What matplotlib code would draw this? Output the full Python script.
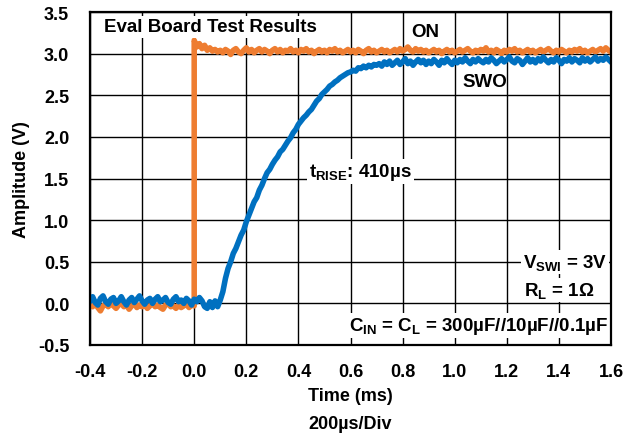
import numpy as np
import matplotlib
matplotlib.use("Agg")
import matplotlib.pyplot as plt

plt.rcParams['font.family'] = ['Liberation Sans', 'DejaVu Sans']
plt.rcParams['font.weight'] = 'bold'
plt.rcParams['mathtext.fontset'] = 'custom'
plt.rcParams['mathtext.rm'] = 'Liberation Sans:bold'
plt.rcParams['mathtext.bf'] = 'Liberation Sans:bold'
plt.rcParams['mathtext.it'] = 'Liberation Sans:bold'

# ---- data (ms, V) ----
orange_pre = [-0.02, -0.04, 0.00, -0.05, -0.09, -0.03, -0.01, -0.04, 0.01, -0.03,
              -0.06, -0.02, 0.00, -0.04, -0.02, -0.07, -0.03, 0.00, -0.05, -0.02,
              -0.04, -0.01, -0.06, -0.03, 0.01, -0.04, -0.02, -0.05, -0.07, -0.02,
              0.00, -0.04, -0.03, -0.06, -0.02, -0.05, -0.03, -0.01, -0.05, -0.02,
              -0.03]
orange_post = [3.16, 3.08, 3.12, 3.06, 3.10, 3.04, 3.07, 3.03, 3.05, 3.02,
               3.04, 3.01, 3.05, 3.03, 2.99, 3.04, 3.06, 3.02, 3.00, 3.04,
               3.07, 3.02, 3.05, 3.01, 3.04, 3.06, 3.02, 3.05, 3.03, 3.00,
               3.04, 3.06, 3.02, 3.05, 3.01, 3.04, 3.03, 3.06, 3.02, 3.04,
               3.01, 3.05, 3.03, 3.06, 3.02, 3.04, 3.00, 3.03, 3.05, 3.02,
               3.04, 3.01, 3.05, 3.03, 3.06, 3.02, 3.04, 3.01, 3.03, 3.05,
               3.02, 3.04, 3.01, 3.05, 3.03, 3.00, 3.04, 3.06, 3.02, 3.04,
               3.01, 3.03, 3.05, 3.02, 3.04, 3.01, 3.03, 3.05, 3.02, 3.06,
               3.03, 3.05, 3.08, 3.04, 3.02, 3.06, 3.03, 3.05, 3.02, 3.04,
               3.01, 3.03, 3.05, 3.02, 3.04, 3.00, 3.03, 3.05, 3.02, 3.04,
               3.01, 3.03, 3.05, 3.02, 3.04, 3.06, 3.03, 3.01, 3.04, 3.02,
               3.05, 3.03, 3.07, 3.02, 3.04, 3.01, 3.05, 3.03, 3.00, 3.04,
               3.02, 3.05, 3.03, 3.06, 3.02, 3.04, 3.01, 3.03, 3.05, 3.02,
               3.04, 3.01, 3.03, 3.05, 3.02, 3.04, 3.06, 3.03, 3.01, 3.04,
               3.02, 3.05, 3.03, 3.01, 3.04, 3.02, 3.05, 3.03, 3.06, 3.02,
               3.04, 3.01, 3.03, 3.05, 3.02, 3.04, 3.06, 3.03, 3.07, 3.04,
               3.02]
swo_vals = [0.03, 0.08, 0.01, -0.02, 0.06, 0.09, 0.02, -0.01, 0.05, 0.07,
            0.00, 0.03, 0.08, 0.02, -0.02, 0.04, 0.07, 0.01, 0.05, 0.09,
            0.03, -0.01, 0.04, 0.06, 0.00, 0.05, 0.08, 0.02, 0.04, 0.07,
            0.01, -0.01, 0.05, 0.08, 0.02, 0.04, 0.00, 0.06, 0.03, -0.02,
            0.05, 0.02, 0.07, 0.03, -0.04, -0.06, 0.02, -0.05, 0.03, -0.04,
            0.04, 0.14, 0.30, 0.42, 0.50, 0.60, 0.66, 0.74, 0.82, 0.88,
            0.98, 1.06, 1.14, 1.22, 1.27, 1.36, 1.42, 1.50, 1.57, 1.61,
            1.67, 1.72, 1.76, 1.82, 1.85, 1.90, 1.95, 1.99, 2.05, 2.09,
            2.15, 2.19, 2.23, 2.26, 2.30, 2.33, 2.38, 2.43, 2.46, 2.51,
            2.54, 2.57, 2.61, 2.63, 2.66, 2.68, 2.71, 2.73, 2.75, 2.77,
            2.78, 2.80, 2.79, 2.83, 2.82, 2.85, 2.83, 2.86, 2.84, 2.87,
            2.86,
            2.88, 2.85, 2.90, 2.87, 2.91, 2.86, 2.89, 2.92, 2.87, 2.90,
            2.94, 2.88, 2.91, 2.86, 2.90, 2.93, 2.89, 2.92, 2.87, 2.91,
            2.88, 2.93, 2.90, 2.86, 2.92, 2.89, 2.94, 2.90, 2.87, 2.92,
            2.89, 2.93, 2.90, 2.95, 2.91, 2.88, 2.93, 2.90, 2.94, 2.91,
            2.89, 2.93, 2.90, 2.95, 2.92, 2.88, 2.91, 2.94, 2.90, 2.93,
            2.96, 2.91, 2.89, 2.94, 2.92, 2.87, 2.91, 2.95, 2.90, 2.93,
            2.89, 2.94, 2.91, 2.96, 2.92, 2.89, 2.93, 2.90, 2.95, 2.92,
            2.88, 2.93, 2.91, 2.95, 2.90, 2.94, 2.92, 2.89, 2.95, 2.91,
            2.94, 2.90, 2.93, 2.96, 2.91, 2.94, 2.92, 2.96, 2.93, 2.90]

t_start, t_step, t_end = -0.40, 0.0, 1.60
orange_pre_t = np.linspace(t_start, t_step, len(orange_pre))
orange_post_t = np.linspace(t_step, t_end, len(orange_post))
swo_t = np.linspace(t_start, t_end, len(swo_vals))

on_t = np.concatenate([orange_pre_t, orange_post_t])
on_v = np.concatenate([orange_pre, orange_post])

xticks = [-0.4, -0.2, 0.0, 0.2, 0.4, 0.6, 0.8, 1.0, 1.2, 1.4, 1.6]
yticks = [-0.5, 0.0, 0.5, 1.0, 1.5, 2.0, 2.5, 3.0, 3.5]

ORANGE = '#EE7D31'
BLUE = '#0070C0'
FS = 13
AFS = 13.5

fig = plt.figure(figsize=(6.4, 4.39), dpi=100)
ax = fig.add_axes([90/640, 1-346/439, (611-90)/640, (346-13)/439])

ax.plot(on_t, on_v, color=ORANGE, lw=4.0, zorder=3, solid_joinstyle='round')
ax.plot(swo_t, swo_vals, color=BLUE, lw=4.0, zorder=4, solid_joinstyle='round')

ax.set_xlim(-0.4, 1.6)
ax.set_ylim(-0.5, 3.5)
ax.set_xticks(xticks)
ax.set_xticklabels([f"{v:.1f}" for v in xticks])
ax.set_yticks(yticks)
ax.set_yticklabels([f"{v:.1f}" for v in yticks])
ax.tick_params(length=0, labelsize=FS, pad=0)
ax.tick_params(axis='y', pad=15)
ax.tick_params(axis='x', pad=13)
for lab in ax.get_xticklabels() + ax.get_yticklabels():
    lab.set_fontweight('bold')
ax.grid(True, color='black', lw=1.0, zorder=1)
ax.set_axisbelow(True)
for s in ax.spines.values():
    s.set_linewidth(1.6)
    s.set_zorder(6)

box = dict(facecolor='white', edgecolor='none', pad=1.5)
ax.text(-0.345, 3.32, 'Eval Board Test Results', fontsize=AFS, fontweight='bold',
        ha='left', va='center', bbox=box, zorder=5)
ax.text(0.832, 3.26, 'ON', fontsize=AFS, fontweight='bold', ha='left', va='center', zorder=5)
ax.text(1.030, 2.66, 'SWO', fontsize=AFS, fontweight='bold', ha='left', va='center', zorder=5)
ax.text(0.44, 1.585, r'$\mathregular{t_{RISE}}$: 410µs', fontsize=AFS, fontweight='bold',
        ha='left', va='center', bbox=box, zorder=5)
ax.text(1.585, 0.50, r'$\mathregular{V_{SWI}}$ = 3V', fontsize=AFS, fontweight='bold',
        ha='right', va='center', bbox=box, zorder=5)
ax.text(1.535, 0.16, r'$\mathregular{R_{L}}$ = 1Ω', fontsize=AFS, fontweight='bold',
        ha='right', va='center', bbox=box, zorder=5)
ax.text(1.59, -0.27, r'$\mathregular{C_{IN}}$ = $\mathregular{C_{L}}$ = 300µF//10µF//0.1µF',
        fontsize=AFS, fontweight='bold', ha='right', va='center', bbox=box, zorder=5)

fig.text(350/640, 1-397/439, 'Time (ms)', fontsize=FS, fontweight='bold', ha='center', va='center')
fig.text(350/640, 1-425/439, '200µs/Div', fontsize=FS, fontweight='bold', ha='center', va='center')
fig.text(22/640, 1-180/439, 'Amplitude (V)', fontsize=FS, fontweight='bold', ha='center',
         va='center', rotation=90)

fig.savefig('out.png', dpi=100)
